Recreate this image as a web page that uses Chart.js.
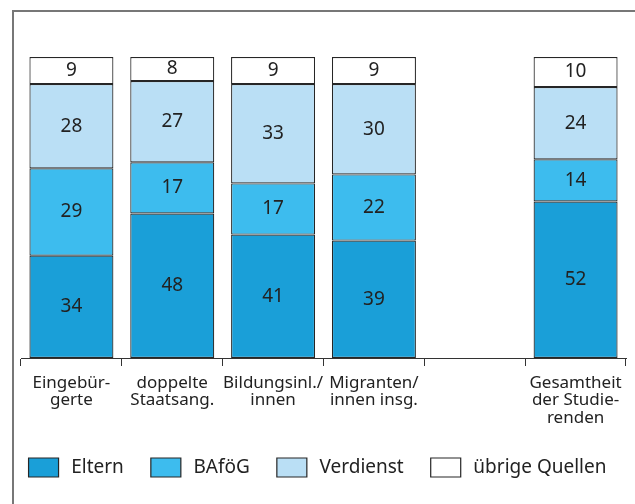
<!DOCTYPE html>
<html>
<head>
<meta charset="utf-8">
<script src="https://cdn.jsdelivr.net/npm/chart.js@4"></script>
<style>
  html, body { margin: 0; padding: 0; background: #fff; overflow: hidden; }
  canvas { display: block; }
</style>
</head>
<body>
<canvas id="myChart" width="635" height="504"></canvas>
<script>
const categories = [
  ['Eingebür-', 'gerte'],
  ['doppelte', 'Staatsang.'],
  ['Bildungsinl./', 'innen'],
  ['Migranten/', 'innen insg.'],
  '',
  ['Gesamtheit', 'der Studie-', 'renden']
];
const eltern    = [34, 48, 41, 39, null, 52];
const bafoeg    = [29, 17, 17, 22, null, 14];
const verdienst = [28, 27, 33, 30, null, 24];
const uebrige   = [9, 8, 9, 9, null, 10];

const FONT = 'Noto Sans';

// grey frame along the top and left edge
const frame = {
  id: 'frame',
  beforeDraw(chart) {
    const c = chart.ctx;
    c.save();
    c.fillStyle = '#777';
    c.fillRect(12, 10, 2, chart.height - 10);
    c.fillRect(12, 10, chart.width - 12, 2);
    c.restore();
  }
};

// writes each segment's value in its middle
const segmentLabels = {
  id: 'segmentLabels',
  afterDatasetsDraw(chart) {
    const c = chart.ctx;
    c.save();
    c.font = '19px "' + FONT + '"';
    c.fillStyle = '#222';
    c.textAlign = 'center';
    c.textBaseline = 'middle';
    chart.data.datasets.forEach((ds, i) => {
      chart.getDatasetMeta(i).data.forEach((bar, j) => {
        const v = ds.data[j];
        if (v == null) return;
        const { x, y, base } = bar.getProps(['x', 'y', 'base'], true);
        c.fillText(v, x, (y + base) / 2);
      });
    });
    c.restore();
  }
};

// extra room below the legend row
const legendFit = {
  id: 'legendFit',
  beforeInit(chart) {
    const fit = chart.legend.fit;
    chart.legend.fit = function () {
      fit.call(this);
      this.height += 17;
    };
  }
};

const ctx = document.getElementById('myChart');

new Chart(ctx, {
  type: 'bar',
  data: {
    labels: categories,
    datasets: [
      { label: 'Eltern', data: eltern, backgroundColor: '#1a9fd8' },
      { label: 'BAföG', data: bafoeg, backgroundColor: '#3dbcee' },
      { label: 'Verdienst', data: verdienst, backgroundColor: '#badff5' },
      { label: 'übrige Quellen', data: uebrige, backgroundColor: '#ffffff' }
    ].map(d => Object.assign(d, {
      borderColor: '#262626',
      borderWidth: 1.2,
      borderSkipped: false,
      categoryPercentage: 1,
      barPercentage: 0.833
    }))
  },
  options: {
    responsive: false,
    animation: false,
    layout: { padding: { top: 57, left: 0, right: 0, bottom: 0 } },
    scales: {
      x: {
        stacked: true,
        grid: { drawOnChartArea: false, color: '#333', tickLength: 8, offset: true },
        border: { color: '#333', width: 1 },
        ticks: {
          color: '#222',
          font: { family: FONT, size: 17, lineHeight: 1.03 },
          padding: 8,
          maxRotation: 0,
          autoSkip: false
        },
        afterFit: s => { s.height = 73; }
      },
      y: {
        stacked: true,
        min: 0,
        max: 100,
        ticks: { display: false },
        grid: { display: false },
        border: { display: false },
        afterFit: s => { s.width = 21; }
      },
      yRight: {
        position: 'right',
        ticks: { display: false },
        grid: { display: false },
        border: { display: false },
        afterFit: s => { s.width = 9; }
      }
    },
    plugins: {
      legend: {
        position: 'bottom',
        labels: {
          color: '#222',
          font: { family: FONT, size: 19 },
          boxWidth: 30,
          boxHeight: 19,
          padding: 27,
          generateLabels(chart) {
            return Chart.defaults.plugins.legend.labels.generateLabels(chart)
              .map(l => Object.assign(l, { text: '\u2009' + l.text }));
          }
        }
      },
      tooltip: { enabled: false }
    }
  },
  plugins: [frame, segmentLabels, legendFit]
});
</script>
</body>
</html>
